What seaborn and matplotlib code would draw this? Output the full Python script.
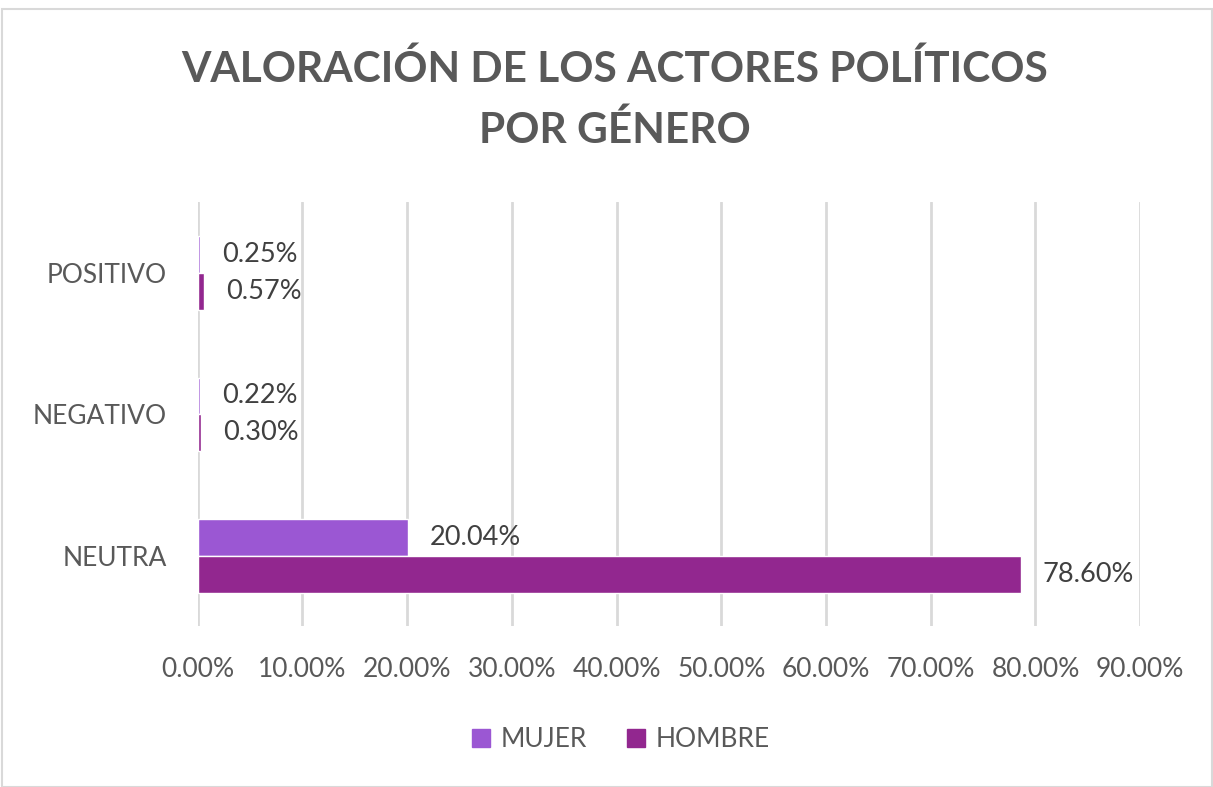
import matplotlib.pyplot as plt
import matplotlib.patches as mpatches
import seaborn as sns
import pandas as pd

# data
categorias = ["POSITIVO", "NEGATIVO", "NEUTRA"]
mujer = [0.25, 0.22, 20.04]
hombre = [0.57, 0.30, 78.60]
x_ticks = [0, 10, 20, 30, 40, 50, 60, 70, 80, 90]

colores = {"MUJER": "#9B57D3", "HOMBRE": "#92278F"}
gris = "#595959"

df = pd.DataFrame({
    "categoria": categorias * 2,
    "genero": ["MUJER"] * 3 + ["HOMBRE"] * 3,
    "valor": mujer + hombre,
})

sns.set_style("white")
plt.rcParams["font.family"] = ["Lato", "DejaVu Sans"]

fig = plt.figure(figsize=(12.13, 7.87), dpi=100)
ax = fig.add_axes([0.163, 0.204, 0.777, 0.539])

sns.barplot(data=df, y="categoria", x="valor", hue="genero", order=categorias,
            hue_order=["MUJER", "HOMBRE"], palette=colores, orient="h",
            width=0.52, saturation=1, ax=ax, legend=False)

# value labels to the right of each bar
for cont in ax.containers:
    for bar in cont:
        w = bar.get_width()
        ax.annotate(f"{w:.2f}%", (w, bar.get_y() + bar.get_height() / 2),
                    xytext=(22, 0), textcoords="offset pixels",
                    ha="left", va="center", fontsize=19.5, color="#404040")

ax.set_xlim(0, 90)
ax.set_ylim(2.5, -0.5)
ax.set_xticks(x_ticks)
ax.set_xticklabels([f"{t:.2f}%" for t in x_ticks])
ax.tick_params(axis="both", length=0, labelsize=19, labelcolor=gris)
ax.tick_params(axis="x", pad=22)
ax.tick_params(axis="y", pad=22)
ax.set_xlabel("")
ax.set_ylabel("")
ax.grid(axis="x", color="#D9D9D9", linewidth=2)
ax.set_axisbelow(True)
for s in ax.spines.values():
    s.set_visible(False)

fig.suptitle("VALORACIÓN DE LOS ACTORES POLÍTICOS\nPOR GÉNERO", x=0.507, y=0.937,
             fontsize=30.5, fontweight="bold", color=gris, linespacing=1.65)

handles = [mpatches.Patch(color=colores[g], label=g) for g in ["MUJER", "HOMBRE"]]
fig.legend(handles=handles, loc="center", bbox_to_anchor=(0.512, 0.06), ncol=2,
           frameon=False, fontsize=19, labelcolor=gris, handlelength=0.7,
           handleheight=0.7, handletextpad=0.4, columnspacing=1.5)

# light border around the chart area
fig.patches.append(mpatches.Rectangle((0.002, 0.0), 0.997, 0.989, transform=fig.transFigure,
                                      fill=False, edgecolor="#D9D9D9", linewidth=1.5))

fig.savefig("out.png", dpi=100, facecolor="white")
